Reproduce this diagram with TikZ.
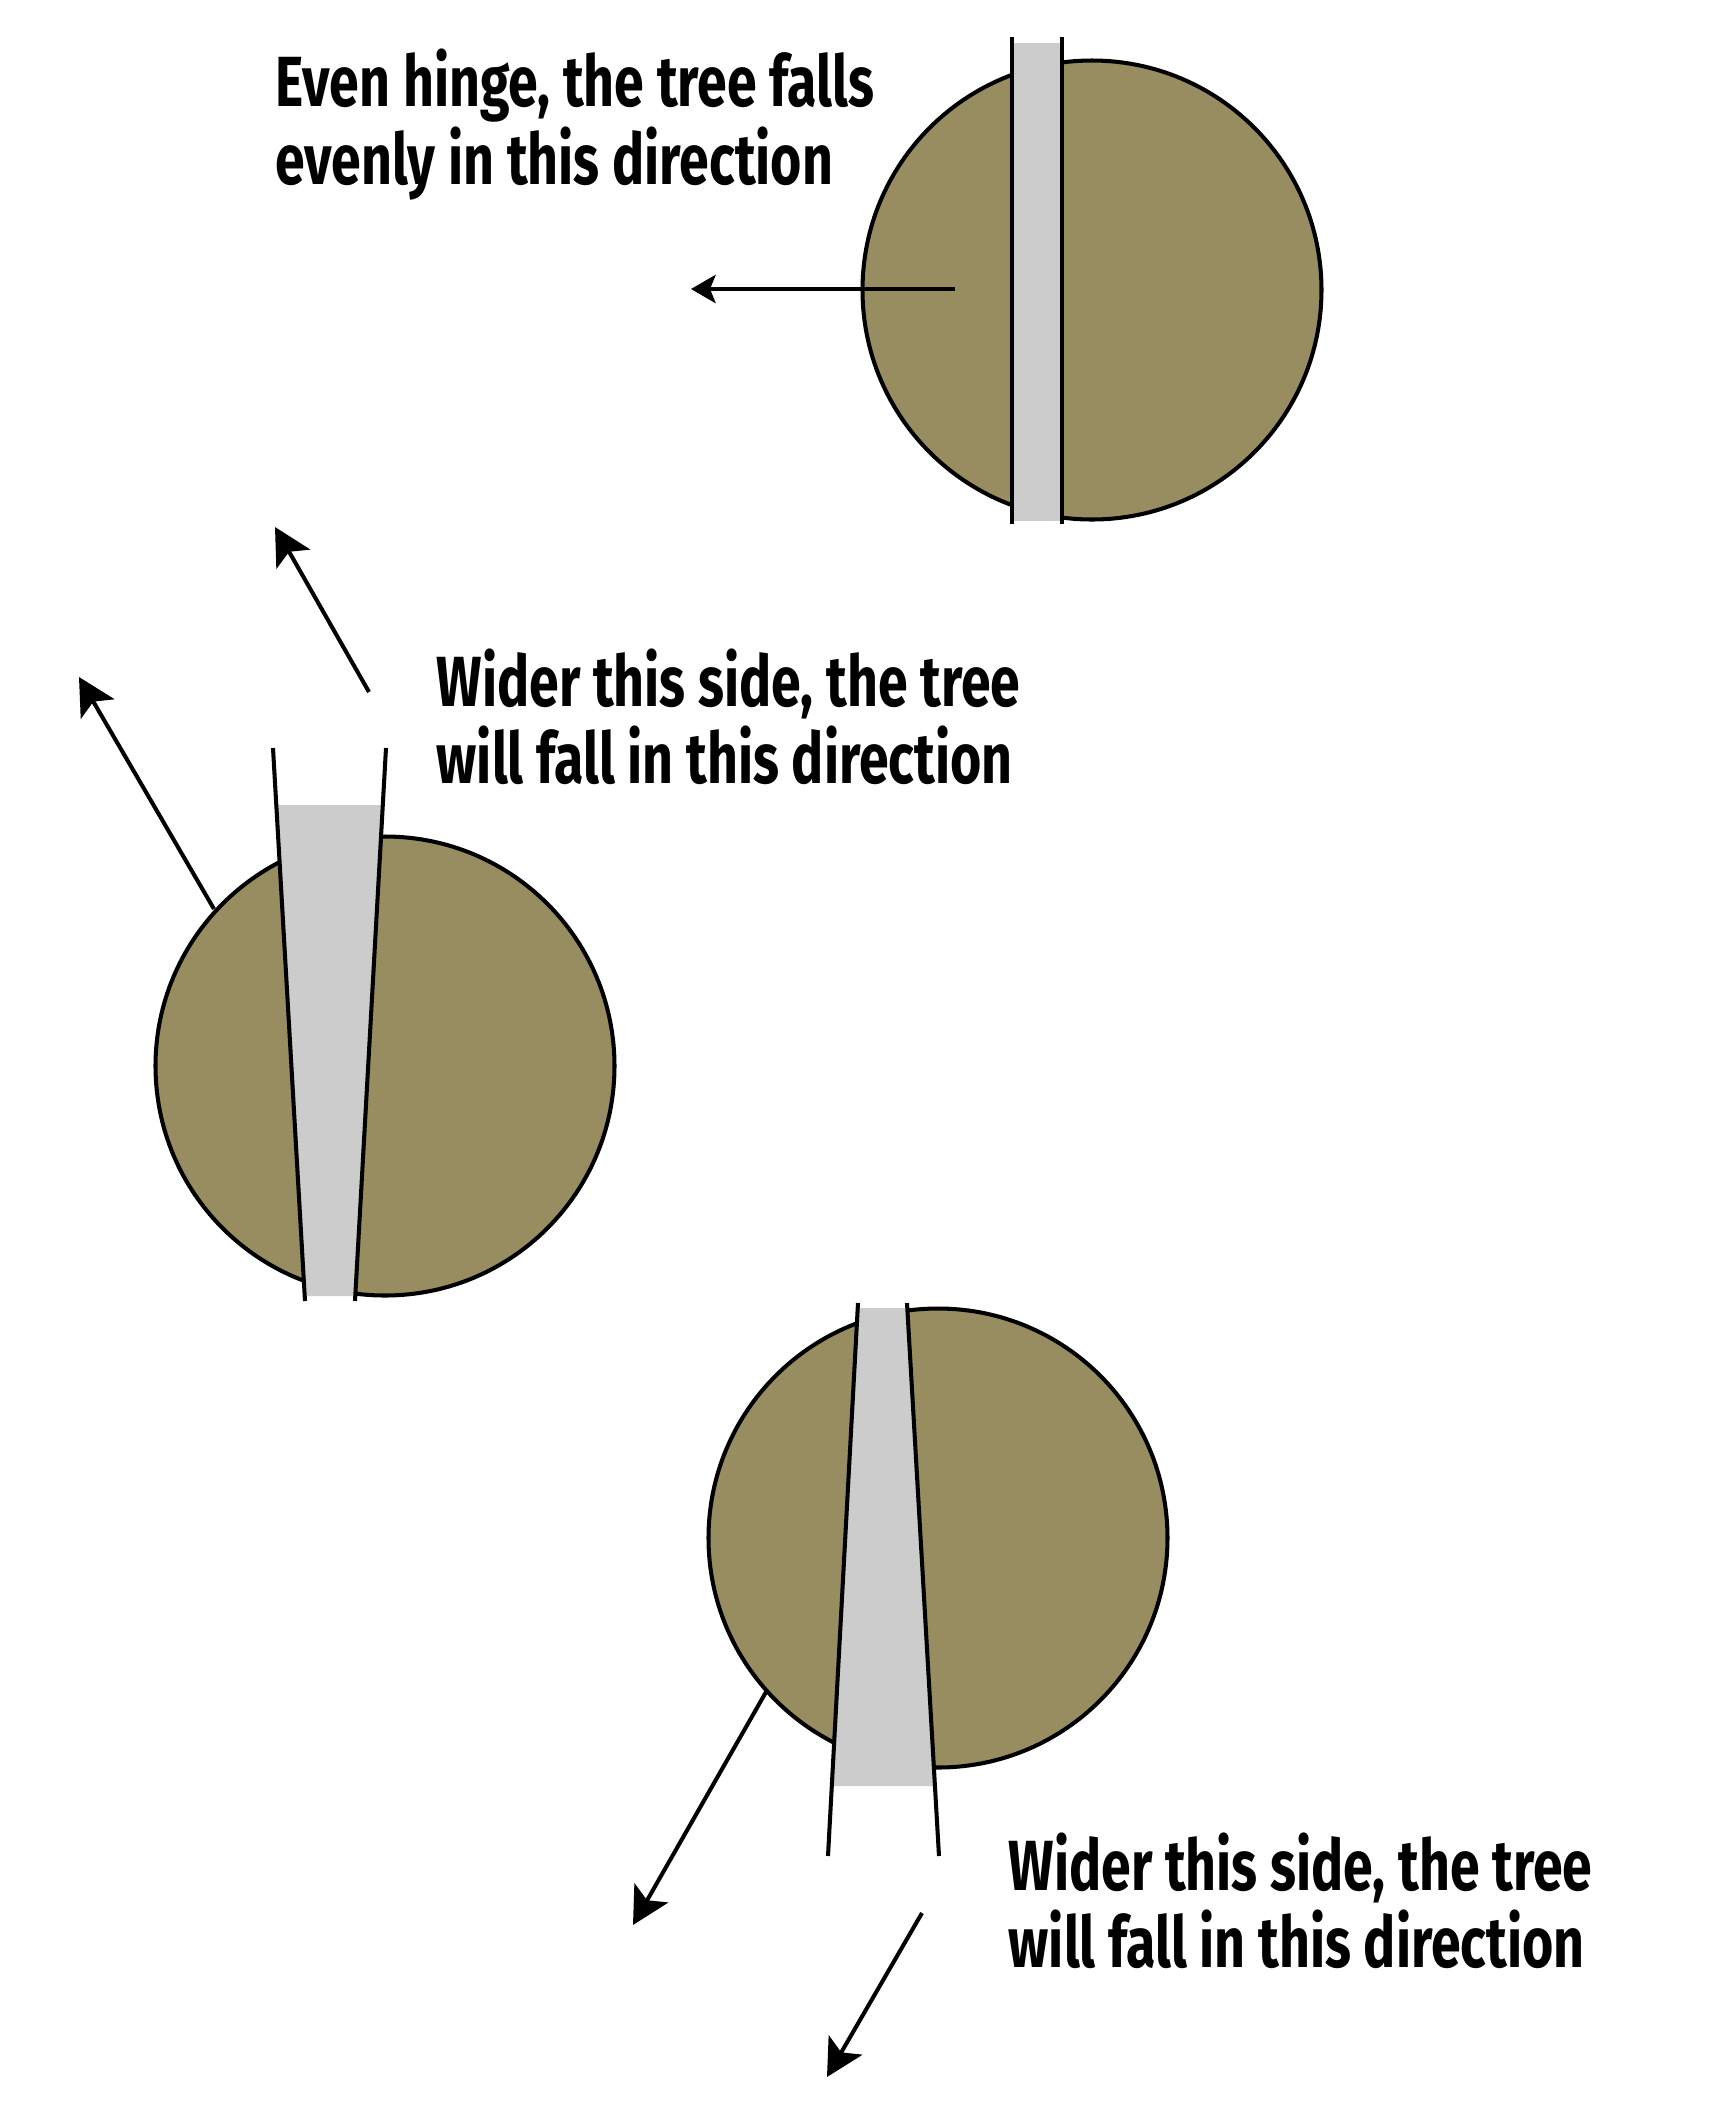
\documentclass[tikz,border=0pt]{standalone}
\usepackage{fontspec}
\setmainfont{Fira Sans}[FakeStretch=0.755]
\usepackage{tikz}
\usetikzlibrary{arrows.meta}

\definecolor{stump}{RGB}{151,141,96}
\definecolor{cut}{RGB}{204,204,204}

\tikzset{
  trunk/.style={fill=stump, draw=black, line width=1.15pt},
  kerf/.style={fill=cut, draw=none},
  sawline/.style={draw=black, line width=1.15pt},
  fall/.style={draw=black, line width=1.15pt, -{Stealth[length=10.5pt, width=11pt, inset=2.4pt]}},
  fallshort/.style={draw=black, line width=1.15pt, -{Stealth[length=7pt, width=8pt, inset=1.6pt]}},
  caption/.style={font=\bfseries\fontsize{20.2}{21.9}\selectfont, align=left, anchor=base west, inner sep=0pt}
}

\begin{document}
\begin{tikzpicture}[x=0.01cm, y=-0.01cm]
\useasboundingbox (0,0) rectangle (1734,2126);

%Even hinge
\draw[trunk] (1092,290) circle (229.5);
\fill[kerf] (1012,43) rectangle (1062,521);
\draw[sawline] (1012,37) -- (1012,524);
\draw[sawline] (1062,37) -- (1062,524);
\coordinate (evenA) at (955,289);
\coordinate (evenB) at (691,289);
\draw[fallshort] (evenA) -- (evenB);
\node[caption] (evenTxt) at (275,184) {Even hinge, the tree falls\\evenly in this direction};

%Wider on the left
\draw[trunk] (385,1066) circle (229.5);
\fill[kerf] (276,805) -- (383,805) -- (355,1296) -- (305,1296) -- cycle;
\draw[sawline] (273,748) -- (305,1301);
\draw[sawline] (386,748) -- (355,1301);
\coordinate (leftA) at (214,909);
\coordinate (leftB) at (79,677);
\coordinate (leftC) at (369,692);
\coordinate (leftD) at (275,527);
\draw[fall] (leftA) -- (leftB);
\draw[fall] (leftC) -- (leftD);
\node[caption] (leftTxt) at (436,783) {Wider this side, the tree\\will fall in this direction};

%Wider on the right
\draw[trunk] (938,1538) circle (229.5);
\fill[kerf] (857.7,1308) -- (907.3,1308) -- (934.9,1786) -- (831.8,1786) -- cycle;
\draw[sawline] (858,1303) -- (828,1856);
\draw[sawline] (907,1303) -- (939,1856);
\coordinate (rightA) at (766,1692);
\coordinate (rightB) at (633,1925);
\coordinate (rightC) at (922,1913);
\coordinate (rightD) at (827,2077);
\draw[fall] (rightA) -- (rightB);
\draw[fall] (rightC) -- (rightD);
\node[caption] (rightTxt) at (1008,1967) {Wider this side, the tree\\will fall in this direction};

\end{tikzpicture}
\end{document}
